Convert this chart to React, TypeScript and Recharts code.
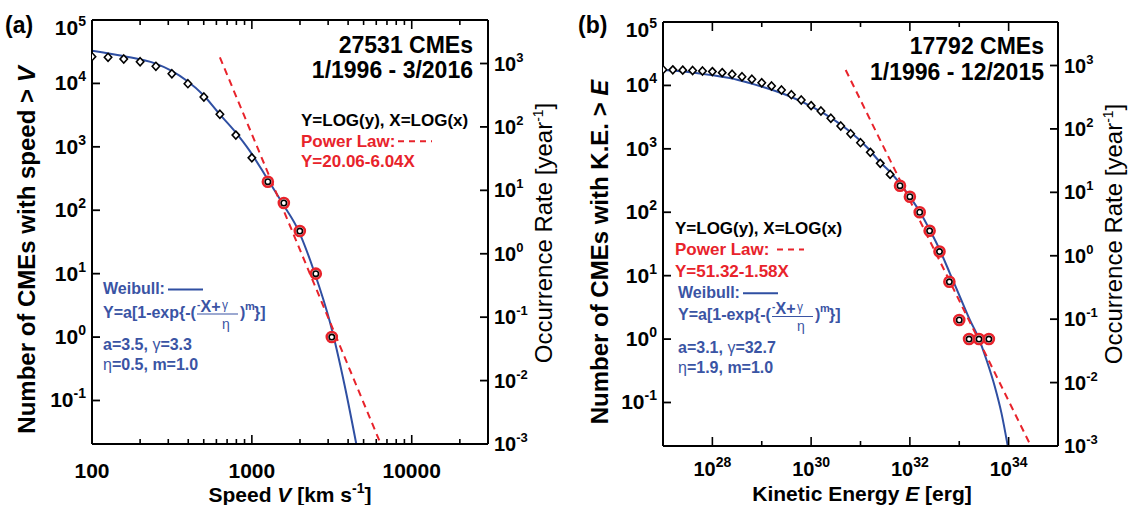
import React from 'react';
import { ComposedChart, Line, Scatter, XAxis, YAxis } from 'recharts';

const FONT = '"Liberation Sans", Arial, Helvetica, sans-serif';
const RED = '#e8232b';
const BLUE_TEXT = '#3a54a4';
const BLUE_LINE = '#2f4fa2';

// ---------------- Panel (a): CME speed ----------------
const speedDiamondX = [100, 126, 158, 200, 251, 316, 398, 501, 631, 794, 1000];
const speedDiamondY = [26400, 25800, 24300, 22000, 18600, 14200, 9900, 6100, 3260, 1530, 670];
const speedCircleX = [1259, 1585, 1995, 2512, 3162];
const speedCircleY = [282, 130, 47, 10, 1];
const speedWeibullX = [100, 157, 248, 313, 394, 497, 622, 776, 977, 1230, 1549, 1950, 2455, 3090, 3800, 4500];
const speedWeibullY = [32800, 27000, 20700, 15900, 10900, 6560, 3370, 1800, 840, 334, 130, 48.7, 10.7, 1.66, 0.175, 0.0206];
const speedPowerX = [631, 6400];
const speedPowerY = [25800, 0.0206];
const speedTicks = [100, 200, 300, 400, 500, 600, 700, 800, 900, 1000, 2000, 3000, 4000, 5000, 6000, 7000, 8000, 9000, 10000, 20000];
const speedDomain: [number, number] = [100, 30000];

// ---------------- Panel (b): CME kinetic energy ----------------
const energyDiamondX = [1e27, 1.58e27, 2.51e27, 3.98e27, 6.31e27, 1e28, 1.58e28, 2.51e28, 3.98e28, 6.31e28, 1e29, 1.58e29, 2.51e29, 3.98e29, 6.31e29, 1e30, 1.58e30, 2.51e30, 3.98e30, 6.31e30, 1e31, 1.58e31, 2.51e31, 3.98e31];
const energyDiamondY = [17700, 17600, 17400, 17200, 16900, 16500, 15900, 15000, 13700, 12500, 11000, 9800, 8460, 7140, 5890, 4800, 3950, 3030, 2290, 1730, 1250, 880, 590, 395];
const energyCircleX = [6.31e31, 1e32, 1.58e32, 2.51e32, 3.98e32, 6.31e32, 1e33, 1.58e33, 2.51e33, 3.98e33];
const energyCircleY = [262, 176, 100, 51, 24, 8, 2, 1, 1, 1];
const energyWeibullX = [1e27, 3.21e27, 1.03e28, 3.31e28, 1.02e29, 3.16e29, 1.1e30, 2.82e30, 6.17e30, 1.35e31, 2.51e31, 3.94e31, 6.28e31, 1e32, 1.59e32, 2.54e32, 4.05e32, 6.46e32, 1.03e33, 1.64e33, 2.49e33, 3.57e33, 5.26e33, 7.18e33, 9.6e33];
const energyWeibullY = [17500, 16300, 14400, 12200, 9530, 7060, 4520, 2920, 1860, 1060, 613, 436, 286, 175, 102, 52.4, 25.3, 10.9, 4.65, 2.0, 1.03, 0.467, 0.177, 0.0673, 0.0206];
const energyPowerX = [5.01e30, 2.82e34];
const energyPowerY = [17500, 0.0206];
const energyTicks = [1e28, 1e29, 1e30, 1e31, 1e32, 1e33, 1e34];
const energyDomain: [number, number] = [1e27, 1e35];

// ---------------- shared y axes ----------------
const countTicks = [0.1, 1, 10, 100, 1000, 10000, 100000];
const rateTicks = [0.001, 0.01, 0.1, 1, 10, 100, 1000];
const countDomain: [number, number] = [0.0206, 100000];
const yearsA = 20.6;
const yearsB = 20.6;

type Pt = { x: number; y: number };
const zip = (xs: number[], ys: number[]): Pt[] => xs.map((x, i) => ({ x, y: ys[i] }));

const expOf = (v: number) => Math.round(Math.log10(v));
const isDecade = (v: number) => Math.abs(Math.log10(v) - expOf(v)) < 1e-6;

const AXIS = { stroke: '#000', strokeWidth: 2 };

const Sup = ({ base, e, size, supSize, rise }: { base: string; e: number; size: number; supSize: number; rise: number }) => (
  <>
    <tspan fontSize={size}>{base}</tspan>
    <tspan fontSize={supSize} dy={-rise}>{String(e)}</tspan>
  </>
);

// ---- tick renderers (x / y given by Recharts = axis line position) ----
const speedBottomTick = (p: any) => {
  const { x, y, payload } = p;
  const v = payload.value;
  const major = isDecade(v);
  return (
    <g>
      <line x1={x} x2={x} y1={y} y2={y - (major ? 9 : 5)} stroke="#000" strokeWidth={1.6} />
      {major && (
        <text x={x} y={y + 34} textAnchor="middle" fontFamily={FONT} fontWeight="bold" fontSize={21} fill="#000">
          {String(v)}
        </text>
      )}
    </g>
  );
};
const speedTopTick = (p: any) => {
  const { x, y, payload } = p;
  const major = isDecade(payload.value);
  return <line x1={x} x2={x} y1={y} y2={y + (major ? 9 : 5)} stroke="#000" strokeWidth={1.6} />;
};
const energyBottomTick = (p: any) => {
  const { x, y, payload } = p;
  const e = expOf(payload.value);
  const major = e % 2 === 0;
  return (
    <g>
      <line x1={x} x2={x} y1={y} y2={y - (major ? 9 : 5)} stroke="#000" strokeWidth={1.6} />
      {major && (
        <text x={x} y={y + 30} textAnchor="middle" fontFamily={FONT} fontWeight="bold" fill="#000">
          <Sup base="10" e={e} size={20} supSize={14} rise={9} />
        </text>
      )}
    </g>
  );
};
const energyTopTick = (p: any) => {
  const { x, y, payload } = p;
  const major = expOf(payload.value) % 2 === 0;
  return <line x1={x} x2={x} y1={y} y2={y + (major ? 9 : 5)} stroke="#000" strokeWidth={1.6} />;
};
const countTick = (p: any) => {
  const { x, y, payload } = p;
  const e = expOf(payload.value);
  const dy = e === 5 ? 8 : 0;
  return (
    <g>
      <line x1={x} x2={x + 8} y1={y} y2={y} stroke="#000" strokeWidth={1.8} />
      <text x={x - 6} y={y + 7 + dy} textAnchor="end" fontFamily={FONT} fontWeight="bold" fill="#000">
        <Sup base="10" e={e} size={21} supSize={14} rise={9} />
      </text>
    </g>
  );
};
const rateTick = (p: any) => {
  const { x, y, payload } = p;
  const e = expOf(payload.value);
  return (
    <g>
      <line x1={x} x2={x - 8} y1={y} y2={y} stroke="#000" strokeWidth={1.8} />
      <text x={x + 6} y={y + 7} textAnchor="start" fontFamily={FONT} fontWeight="bold" fill="#000">
        <Sup base="10" e={e} size={20} supSize={13} rise={9} />
      </text>
    </g>
  );
};

// ---- markers ----
const Diamond = (p: any) => {
  const { cx, cy } = p;
  if (cx == null || cy == null) return <g />;
  return (
    <polygon
      points={`${cx},${cy - 4} ${cx + 3.7},${cy} ${cx},${cy + 4} ${cx - 3.7},${cy}`}
      fill="#fff"
      stroke="#000"
      strokeWidth={1.6}
    />
  );
};
const RedCircle = (p: any) => {
  const { cx, cy } = p;
  if (cx == null || cy == null) return <g />;
  return (
    <g>
      <circle cx={cx} cy={cy} r={5} fill="#fff" stroke={RED} strokeWidth={2.6} />
      <circle cx={cx} cy={cy} r={2.7} fill="#fff" stroke="#000" strokeWidth={1.6} />
    </g>
  );
};

interface PanelProps {
  width: number;
  margin: { top: number; right: number; bottom: number; left: number };
  domain: [number, number];
  ticks: number[];
  bottomTick: (p: any) => any;
  topTick: (p: any) => any;
  years: number;
  diamonds: Pt[];
  circles: Pt[];
  weibull: Pt[];
  power: Pt[];
}

const Panel = (props: PanelProps) => {
  const { width, margin, domain, ticks, bottomTick, topTick, years, diamonds, circles, weibull, power } = props;
  const rateDomain: [number, number] = [countDomain[0] / years, countDomain[1] / years];
  return (
    <ComposedChart width={width} height={505} margin={margin}>
      <XAxis
        dataKey="x"
        type="number"
        scale="log"
        domain={domain}
        allowDataOverflow
        ticks={ticks}
        interval={0}
        tick={bottomTick}
        tickLine={false}
        tickSize={0}
        tickMargin={0}
        height={1}
        axisLine={AXIS}
      />
      <XAxis
        xAxisId="top"
        dataKey="x"
        orientation="top"
        type="number"
        scale="log"
        domain={domain}
        allowDataOverflow
        ticks={ticks}
        interval={0}
        tick={topTick}
        tickLine={false}
        tickSize={0}
        tickMargin={0}
        height={1}
        axisLine={AXIS}
      />
      <YAxis
        dataKey="y"
        type="number"
        scale="log"
        domain={countDomain}
        allowDataOverflow
        ticks={countTicks}
        interval={0}
        tick={countTick}
        tickLine={false}
        tickSize={0}
        tickMargin={0}
        width={1}
        axisLine={AXIS}
      />
      <YAxis
        yAxisId="rate"
        dataKey="y"
        orientation="right"
        type="number"
        scale="log"
        domain={rateDomain}
        allowDataOverflow
        ticks={rateTicks}
        interval={0}
        tick={rateTick}
        tickLine={false}
        tickSize={0}
        tickMargin={0}
        width={1}
        axisLine={AXIS}
      />
      <Line data={weibull} dataKey="y" type="monotone" stroke={BLUE_LINE} strokeWidth={2} dot={false} isAnimationActive={false} />
      <Line data={power} dataKey="y" type="linear" stroke={RED} strokeWidth={2} strokeDasharray="7 5" dot={false} isAnimationActive={false} />
      <Scatter data={diamonds} dataKey="y" shape={Diamond} isAnimationActive={false} />
      <Scatter data={circles} dataKey="y" shape={RedCircle} isAnimationActive={false} />
    </ComposedChart>
  );
};

const WeibullBlock = ({ x, yTitle, B, yA, yEta, a, g, eta, m }: any) => (
  <g fill={BLUE_TEXT} fontFamily={FONT} fontWeight="bold" fontSize={16}>
    <text x={x} y={yTitle}>Weibull:</text>
    <line x1={x + 65} x2={x + 100} y1={yTitle - 4.5} y2={yTitle - 4.5} stroke={BLUE_LINE} strokeWidth={2} />
    <text x={x} y={B}>{'Y=a[1-exp{-('}</text>
    <text x={x + 94} y={B - 10} fontSize={10}>-</text>
    <text x={x + 97.5} y={B - 6}>X+</text>
    <text x={x + 119} y={B - 9} fontSize={12} fontWeight="normal">γ</text>
    <line x1={x + 94} x2={x + 135} y1={B - 3.5} y2={B - 3.5} stroke={BLUE_TEXT} strokeWidth={1.2} />
    <text x={x + 119} y={B + 11} fontSize={14} fontWeight="normal">η</text>
    <text x={x + 137} y={B}>)</text>
    <text x={x + 142} y={B - 8} fontSize={11}>m</text>
    <text x={x + 151} y={B}>{'}]'}</text>
    <text x={x} y={yA}>
      {`a=${a}, `}<tspan fontWeight="normal">γ</tspan>{`=${g}`}
    </text>
    <text x={x} y={yEta}>
      <tspan fontWeight="normal">η</tspan>{`=${eta}, m=${m}`}
    </text>
  </g>
);

const PowerBlock = ({ x, yLog, yPow, yEq, dashX1, dashX2, eq }: any) => (
  <g fontFamily={FONT} fontWeight="bold" fontSize={17}>
    <text x={x} y={yLog} fill="#000">Y=LOG(y), X=LOG(x)</text>
    <text x={x} y={yPow} fill={RED}>Power Law:</text>
    <line x1={dashX1} x2={dashX2} y1={yPow - 5.5} y2={yPow - 5.5} stroke={RED} strokeWidth={2} strokeDasharray="6 5" />
    <text x={x} y={yEq} fill={RED}>{eq}</text>
  </g>
);

const Overlay = () => (
  <svg width={1130} height={505} style={{ position: 'absolute', left: 0, top: 0, pointerEvents: 'none' }}>
    <text x={5} y={33} fontFamily={FONT} fontWeight="bold" fontSize={23}>(a)</text>
    <text x={35} y={250} transform="rotate(-90 35 250)" textAnchor="middle" fontFamily={FONT} fontWeight="bold" fontSize={24}>
      Number of CMEs with speed &gt; <tspan fontStyle="italic">V</tspan>
    </text>
    <text x={552} y={233} transform="rotate(-90 552 233)" textAnchor="middle" fontFamily={FONT} fontSize={24}>
      Occurrence Rate [year<tspan fontSize={14} dy={-9}>-1</tspan><tspan dy={9}>]</tspan>
    </text>
    <text x={290} y={502} textAnchor="middle" fontFamily={FONT} fontWeight="bold" fontSize={21}>
      Speed <tspan fontStyle="italic">V</tspan> [km s<tspan fontSize={14} dy={-9}>-1</tspan><tspan dy={9}>]</tspan>
    </text>
    <text x={473} y={53} textAnchor="end" fontFamily={FONT} fontWeight="bold" fontSize={23}>27531 CMEs</text>
    <text x={473} y={78} textAnchor="end" fontFamily={FONT} fontWeight="bold" fontSize={23}>1/1996 - 3/2016</text>
    <PowerBlock x={301} yLog={126} yPow={146.7} yEq={167} dashX1={398} dashX2={432} eq="Y=20.06-6.04X" />
    <WeibullBlock x={103} yTitle={294} B={317.5} yA={350} yEta={369.5} a="3.5" g="3.3" eta="0.5" m="1.0" />

    <text x={578} y={33} fontFamily={FONT} fontWeight="bold" fontSize={23}>(b)</text>
    <text x={608} y={252} transform="rotate(-90 608 252)" textAnchor="middle" fontFamily={FONT} fontWeight="bold" fontSize={24}>
      Number of CMEs with K.E. &gt; <tspan fontStyle="italic">E</tspan>
    </text>
    <text x={1122} y={234} transform="rotate(-90 1122 234)" textAnchor="middle" fontFamily={FONT} fontSize={24}>
      Occurrence Rate [year<tspan fontSize={14} dy={-9}>-1</tspan><tspan dy={9}>]</tspan>
    </text>
    <text x={862} y={501} textAnchor="middle" fontFamily={FONT} fontWeight="bold" fontSize={21}>
      Kinetic Energy <tspan fontStyle="italic">E</tspan> [erg]
    </text>
    <text x={1044} y={54} textAnchor="end" fontFamily={FONT} fontWeight="bold" fontSize={23}>17792 CMEs</text>
    <text x={1044} y={80} textAnchor="end" fontFamily={FONT} fontWeight="bold" fontSize={23}>1/1996 - 12/2015</text>
    <PowerBlock x={675} yLog={234.3} yPow={255} yEq={276.7} dashX1={777} dashX2={804} eq="Y=51.32-1.58X" />
    <WeibullBlock x={678} yTitle={297.7} B={320} yA={353.3} yEta={373.3} a="3.1" g="32.7" eta="1.9" m="1.0" />
  </svg>
);

export default function App() {
  return (
    <div style={{ position: 'absolute', left: 0, top: 0, width: 1130, height: 505, background: '#fff', overflow: 'hidden' }}>
      <div style={{ position: 'absolute', left: 0, top: 0 }}>
        <Panel
          width={560}
          margin={{ top: 19, right: 71, bottom: 60, left: 91 }}
          domain={speedDomain}
          ticks={speedTicks}
          bottomTick={speedBottomTick}
          topTick={speedTopTick}
          years={yearsA}
          diamonds={zip(speedDiamondX, speedDiamondY)}
          circles={zip(speedCircleX, speedCircleY)}
          weibull={zip(speedWeibullX, speedWeibullY)}
          power={zip(speedPowerX, speedPowerY)}
        />
      </div>
      <div style={{ position: 'absolute', left: 565, top: 0 }}>
        <Panel
          width={565}
          margin={{ top: 21, right: 71, bottom: 58, left: 97 }}
          domain={energyDomain}
          ticks={energyTicks}
          bottomTick={energyBottomTick}
          topTick={energyTopTick}
          years={yearsB}
          diamonds={zip(energyDiamondX, energyDiamondY)}
          circles={zip(energyCircleX, energyCircleY)}
          weibull={zip(energyWeibullX, energyWeibullY)}
          power={zip(energyPowerX, energyPowerY)}
        />
      </div>
      <Overlay />
    </div>
  );
}
